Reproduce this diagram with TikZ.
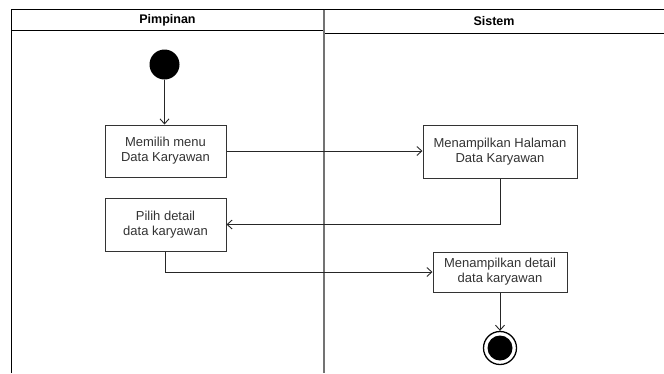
\documentclass[tikz,border=0pt]{standalone}
\usepackage{fontspec}
\setmainfont{Liberation Sans}
\usetikzlibrary{arrows.meta}

\begin{document}
\begin{tikzpicture}[x=1pt,y=-1pt,
  act/.style={draw=black!80, line width=1pt, align=center, inner sep=0pt,
    font=\fontsize{13}{15}\selectfont, text=black!80},
  flow/.style={draw=black!85, line width=0.9pt, -{Straight Barb[length=5pt,width=9pt]}},
  lane/.style={draw=black, line width=1pt},
  head/.style={font=\bfseries\fontsize{12.5}{15}\selectfont}]
\useasboundingbox (0,0) rectangle (664,373);

% swimlanes
\draw[lane] (11.5,373) -- (11.5,9.5) -- (664,9.5);
\draw[lane] (11.5,30.7) -- (324,30.7);
\draw[lane] (324,33.3) -- (664,33.3);
\draw[line width=2.5pt, draw=black!55] (324,9.5) -- (324,373);
\node[head] (pimpinan) at (167.5,20) {Pimpinan};
\node[head] (sistem) at (494,21.5) {Sistem};

% initial and final states
\node[circle, fill=black, minimum size=30pt, inner sep=0pt] (start) at (164.5,64.5) {};
\node[circle, draw=black, line width=1.3pt, minimum size=33pt, inner sep=0pt] (final) at (500,348) {};
\fill[black] (final.center) circle (12.5pt);

% activities
\node[act, minimum width=121pt, minimum height=52pt] (b1) at (165.5,151) {Memilih menu\\Data Karyawan};
\node[act, minimum width=121pt, minimum height=53pt] (b2) at (165.5,224.5) {Pilih detail\\data karyawan};
\node[act, minimum width=154pt, minimum height=53pt] (b3) at (500,151.5) {Menampilkan Halaman\\Data Karyawan};
\node[act, minimum width=134pt, minimum height=40pt] (b4) at (500,272) {Menampilkan detail\\data karyawan};

% control flow
\draw[flow] (start.south) -- (start.south |- b1.north);
\draw[flow] (b1.east) -- (b1.east -| b3.west);
\draw[flow] (b3.south) |- (b2.east);
\draw[flow] (b2.south) |- (b4.west);
\draw[flow] (b4.south) -- (final.north);
\end{tikzpicture}
\end{document}
